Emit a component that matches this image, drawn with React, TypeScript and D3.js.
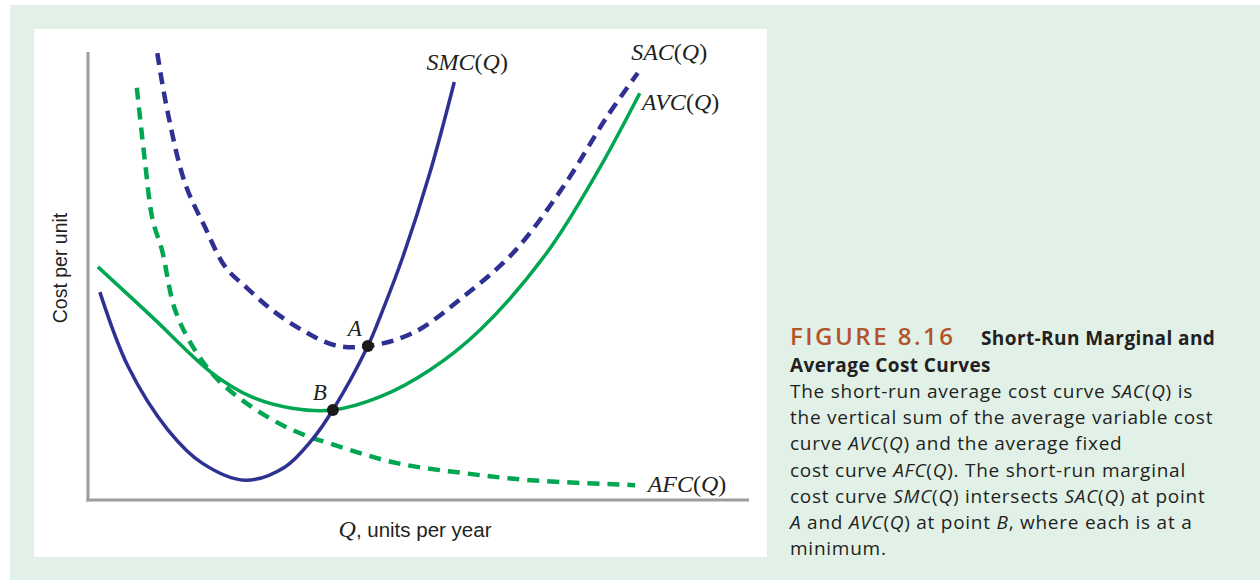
import React from "react";
import * as d3 from "d3";

// Data: [Q, cost] in an abstract 0..100 space
const smcPoints: [number, number][] = [
  [1.8, 46.2], [6.1, 29.6], [12.1, 15.6], [17.3, 8.2], [23.8, 4.4], [29.8, 7.3],
  [33.9, 13.3], [37.1, 20.0], [42.4, 34.2], [44.5, 41.6], [47.7, 54.0], [51.8, 72.7], [55.5, 92.9],
];
const sacPoints: [number, number][] = [
  [10.5, 99.3], [12.0, 86.7], [14.7, 70.4], [17.7, 60.7], [20.8, 51.8], [24.1, 47.1],
  [27.9, 42.2], [32.4, 37.8], [37.4, 34.4], [42.4, 34.2], [49.2, 37.1], [56.8, 45.1],
  [64.4, 54.9], [72.0, 69.6], [78.6, 85.1], [83.3, 94.9],
];
const avcPoints: [number, number][] = [
  [1.5, 51.8], [9.7, 40.7], [18.8, 28.2], [24.8, 22.9], [30.9, 20.4], [37.1, 20.0],
  [44.2, 22.9], [51.8, 28.9], [59.4, 37.8], [69.5, 54.9], [77.1, 72.7], [83.6, 90.4],
];
const afcPoints: [number, number][] = [
  [7.4, 91.6], [8.6, 75.6], [9.8, 62.2], [11.2, 55.6], [13.2, 42.2], [16.2, 33.3],
  [19.7, 26.7], [24.8, 20.7], [30.9, 15.6], [37.4, 12.2], [46.8, 8.2], [56.8, 6.0],
  [67.0, 4.4], [82.9, 3.3],
];
const markedPoints: { name: string; q: number; c: number }[] = [
  { name: "A", q: 42.4, c: 34.2 },
  { name: "B", q: 37.1, c: 20.0 },
];
const curveLabels: { name: string; q: number; c: number }[] = [
  { name: "SMC", q: 51.3, c: 95.5 },
  { name: "SAC", q: 82.3, c: 97.8 },
  { name: "AVC", q: 83.9, c: 86.7 },
  { name: "AFC", q: 84.8, c: 1.8 },
];
const captionTitle = "FIGURE 8.16";
const captionHeading = ["Short-Run Marginal and", "Average Cost Curves"];

const NAVY = "#2e3192";
const GREEN = "#00a651";
const AXIS = "#9d9d9f";
const TEXT = "#231f20";

const x = d3.scaleLinear().domain([0, 100]).range([88, 748]);
const y = d3.scaleLinear().domain([0, 100]).range([500, 50]);
const line = d3
  .line<[number, number]>()
  .x((d) => x(d[0]))
  .y((d) => y(d[1]))
  .curve(d3.curveCatmullRom.alpha(0.5));

const serif = "'Liberation Serif', 'Times New Roman', serif";
const sans = "'Liberation Sans', Arial, sans-serif";
const capFont = "'Open Sans', 'Noto Sans', sans-serif";

function CurveLabel({ name, q, c }: { name: string; q: number; c: number }) {
  return (
    <text x={x(q)} y={y(c)} fontFamily={serif} fontSize={24} fill={TEXT}>
      <tspan fontStyle="italic">{name}</tspan>(<tspan fontStyle="italic">Q</tspan>)
    </text>
  );
}

export default function App() {
  const bodyLines: React.ReactNode[] = [
    <>The short-run average cost curve <tspan fontStyle="italic">SAC</tspan>(<tspan fontStyle="italic">Q</tspan>) is</>,
    <>the vertical sum of the average variable cost</>,
    <>curve <tspan fontStyle="italic">AVC</tspan>(<tspan fontStyle="italic">Q</tspan>) and the average fixed</>,
    <>cost curve <tspan fontStyle="italic">AFC</tspan>(<tspan fontStyle="italic">Q</tspan>). The short-run marginal</>,
    <>cost curve <tspan fontStyle="italic">SMC</tspan>(<tspan fontStyle="italic">Q</tspan>) intersects <tspan fontStyle="italic">SAC</tspan>(<tspan fontStyle="italic">Q</tspan>) at point</>,
    <><tspan fontStyle="italic">A</tspan> and <tspan fontStyle="italic">AVC</tspan>(<tspan fontStyle="italic">Q</tspan>) at point <tspan fontStyle="italic">B</tspan>, where each is at a</>,
    <>minimum.</>,
  ];
  return (
    <svg
      width={1260}
      height={580}
      style={{ position: "absolute", left: 0, top: 0, display: "block" }}
    >
      <rect x={0} y={0} width={1260} height={580} fill="#ffffff" />
      <rect x={10} y={5} width={1250} height={575} fill="#e1f1e7" />
      <rect x={34} y={29} width={733} height={528} fill="#ffffff" />

      {/* axes */}
      <line x1={x(0)} y1={y(100) + 2} x2={x(0)} y2={y(0) + 1.5} stroke={AXIS} strokeWidth={3} />
      <line x1={x(0) - 1.5} y1={y(0)} x2={749} y2={y(0)} stroke={AXIS} strokeWidth={3} />

      {/* curves */}
      <path d={line(afcPoints) || ""} fill="none" stroke={GREEN} strokeWidth={4.5} strokeDasharray="12 8" />
      <path d={line(sacPoints) || ""} fill="none" stroke={NAVY} strokeWidth={4.5} strokeDasharray="12 7.5" />
      <path d={line(avcPoints) || ""} fill="none" stroke={GREEN} strokeWidth={3.5} />
      <path d={line(smcPoints) || ""} fill="none" stroke={NAVY} strokeWidth={3.5} />

      {markedPoints.map((p) => (
        <g key={p.name}>
          <circle cx={x(p.q)} cy={y(p.c)} r={6} fill="#1a1a1a" />
          <text
            x={x(p.q) - 20}
            y={y(p.c) - 10}
            fontFamily={serif}
            fontStyle="italic"
            fontSize={23}
            fill={TEXT}
          >
            {p.name}
          </text>
        </g>
      ))}

      {curveLabels.map((l) => (
        <CurveLabel key={l.name} {...l} />
      ))}

      {/* axis titles */}
      <text
        transform={`translate(67, 268) rotate(-90)`}
        textAnchor="middle"
        fontFamily={sans}
        fontSize={19.5}
        fill={TEXT}
      >
        Cost per unit
      </text>
      <text x={415} y={537} textAnchor="middle" fontFamily={sans} fontSize={20.5} fill={TEXT}>
        <tspan fontFamily={serif} fontStyle="italic" fontSize={24}>Q</tspan>, units per year
      </text>

      {/* caption */}
      <text x={790} y={345} fontFamily={capFont} fontWeight={600} fontSize={24} letterSpacing={2.5} fill="#b5532c">
        {captionTitle}
      </text>
      <text x={981} y={345} fontFamily={capFont} fontWeight={700} fontSize={19} letterSpacing={0.4} fill={TEXT}>
        {captionHeading[0]}
      </text>
      <text x={790} y={372} fontFamily={capFont} fontWeight={700} fontSize={19} letterSpacing={0.4} fill={TEXT}>
        {captionHeading[1]}
      </text>
      {bodyLines.map((ln, i) => (
        <text key={i} x={790} y={398 + i * 26.2} fontFamily={capFont} fontSize={19} letterSpacing={0.75} fill={TEXT}>
          {ln}
        </text>
      ))}
    </svg>
  );
}
